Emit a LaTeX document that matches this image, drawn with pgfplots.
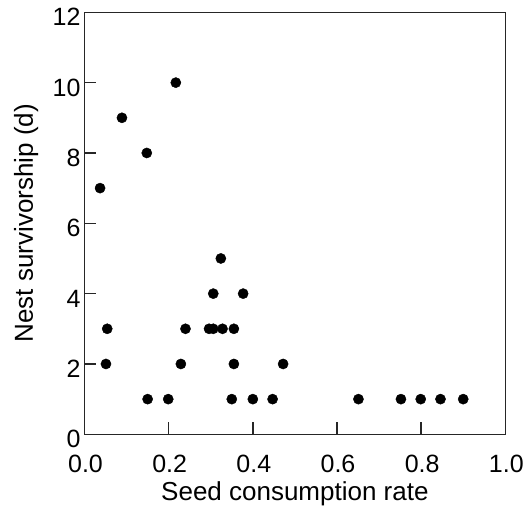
\documentclass[border=0pt]{standalone}
\usepackage{fontspec}
\setmainfont{Liberation Sans}
\usepackage{pgfplots}
\pgfplotsset{compat=1.18}
\begin{document}
\begin{tikzpicture}
\begin{axis}[
 name=ax,
 scale only axis, width=420.8bp, height=422bp,
 xmin=0, xmax=1, ymin=0, ymax=12,
 xtick={0,0.2,0.4,0.6,0.8,1}, ytick={0,2,4,6,8,10,12},
 xticklabel style={/pgf/number format/.cd, fixed, fixed zerofill, precision=1, /tikz/.cd, anchor=base, inner sep=0pt, yshift=-37.7bp, xshift=1bp},
 yticklabel style={anchor=base east, inner sep=0pt, xshift=-3.8bp, yshift=-13.4bp},
 xtick align=inside, ytick align=inside, xtick pos=bottom, ytick pos=left,
 major tick length=12bp,
 axis line style={line width=1.3bp, black!85},
 every tick/.style={line width=1.4bp, black!85},
 tick label style={font=\fontsize{25bp}{30bp}\selectfont},
 label style={font=\fontsize{26bp}{31bp}\selectfont},
 /pgf/number format/assume math mode=true,
 xlabel={Seed consumption rate}, ylabel={Nest survivorship (d)},
 xlabel style={at={(axis description cs:0.5,-0.1557)}, anchor=base},
 ylabel style={at={(axis description cs:-0.1224,0.5)}, anchor=base},
]
\addplot[only marks, mark=*, mark size=5.1bp, mark options={fill=black, draw=black}] coordinates {
(0.037,7) (0.089,9) (0.148,8) (0.217,10)
(0.054,3) (0.051,2) (0.150,1) (0.199,1) (0.229,2) (0.240,3)
(0.296,3) (0.306,3) (0.306,4) (0.324,5) (0.328,3) (0.355,3) (0.355,2) (0.350,1)
(0.377,4) (0.400,1) (0.447,1) (0.472,2)
(0.651,1) (0.752,1) (0.799,1) (0.846,1) (0.900,1)
};
\end{axis}
\pgfresetboundingbox
\path ([xshift=-84.5bp, yshift=-73.7bp]ax.south west) rectangle ([xshift=23.7bp, yshift=12.3bp]ax.north east);
\end{tikzpicture}
\end{document}
